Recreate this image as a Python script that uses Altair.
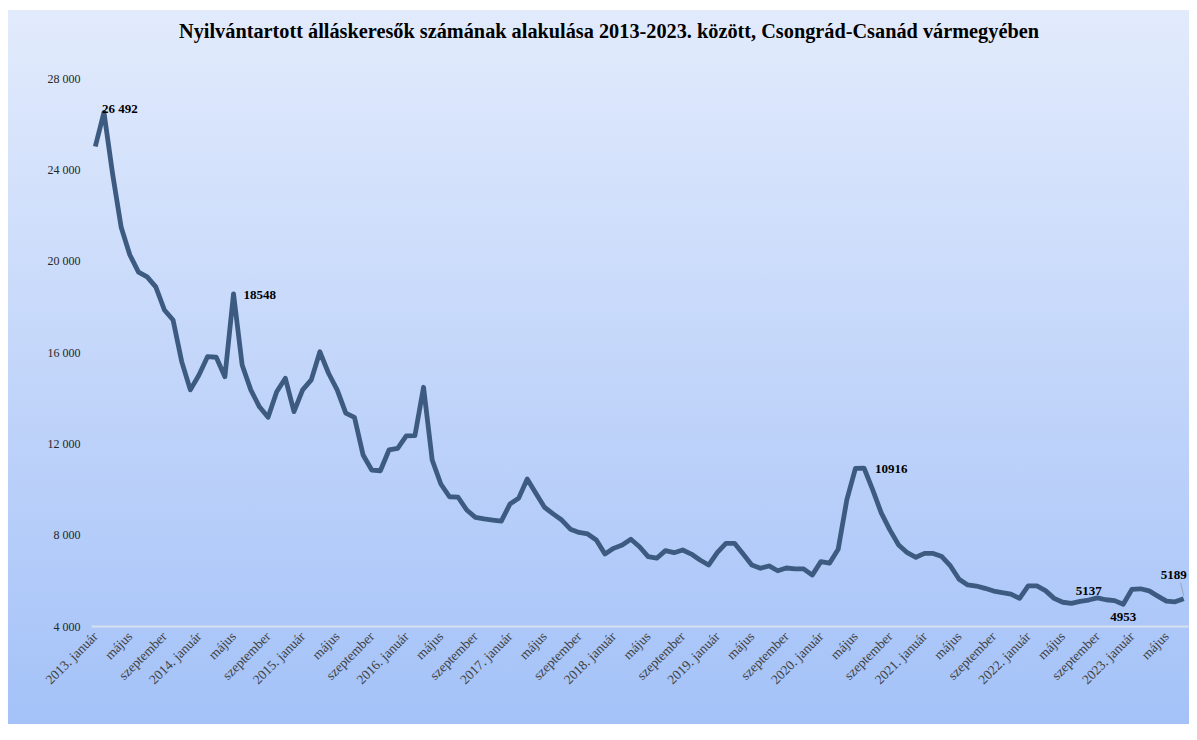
import altair as alt
import pandas as pd

# ---- data ----
months = ["január", "február", "március", "április", "május", "június",
          "július", "augusztus", "szeptember", "október", "november", "december"]
start_year = 2013

values = [
    25000, 26492, 23800, 21450, 20250, 19500, 19290, 18850, 17840, 17400, 15580, 14340,   # 2013
    14990, 15800, 15770, 14920, 18548, 15430, 14340, 13600, 13140, 14260, 14850, 13390,   # 2014
    14340, 14780, 16010, 15070, 14340, 13320, 13140, 11490, 10830, 10800, 11710, 11780,   # 2015
    12330, 12340, 14455, 11270, 10220, 9660, 9640, 9080, 8760, 8690, 8640, 8590,          # 2016
    9340, 9590, 10440, 9810, 9200, 8910, 8640, 8240, 8100, 8030, 7770, 7150,              # 2017
    7400, 7550, 7800, 7470, 7040, 6970, 7300, 7210, 7330, 7150, 6890, 6670,               # 2018
    7210, 7620, 7620, 7150, 6670, 6530, 6630, 6420, 6540, 6500, 6500, 6230,               # 2019
    6820, 6750, 7360, 9520, 10900, 10916, 9960, 8940, 8200, 7550, 7210, 7010,             # 2020
    7180, 7180, 7040, 6630, 6050, 5800, 5750, 5650, 5530, 5460, 5400, 5210,               # 2021
    5760, 5760, 5550, 5210, 5040, 4990, 5080, 5137, 5230, 5150, 5110, 4953,               # 2022
    5600, 5630, 5540, 5310, 5090, 5060, 5189,                                             # 2023
]
n = len(values)
labels = [f"{start_year + i // 12}. {months[i % 12]}" if i % 12 == 0 else months[i % 12]
          for i in range(n)]
tick_idx = list(range(0, n, 4))

ann_idx = [1, 16, 89, 115, 119, 126]
ann_text = ["26 492", "18548", "10916", "5137", "4953", "5189"]

y_ticks = [4000, 8000, 12000, 16000, 20000, 24000, 28000]

title_text = "Nyilvántartott álláskeresők számának alakulása 2013-2023. között, Csongrád-Csanád vármegyében"

# ---- tables ----
df = pd.DataFrame({"i": list(range(n)), "v": values, "label": labels})
ann = pd.DataFrame({"i": ann_idx, "v": [values[k] for k in ann_idx], "t": ann_text})
title_df = pd.DataFrame({"t": [title_text]})

FONT = "Liberation Serif"
W, H = 1097, 548
PAD = {"left": 83, "top": 70, "right": 1, "bottom": 98}

label_js = "[" + ",".join("'" + s + "'" for s in labels) + "][datum.value]"

x_enc = alt.X("i:O", scale=alt.Scale(type="point", padding=0.5),
              axis=alt.Axis(title=None, values=tick_idx, labelExpr=label_js,
                            labelAngle=-45, labelAlign="right", labelBaseline="middle",
                            labelFont=FONT, labelFontSize=13.5, labelColor="#404040",
                            labelPadding=8, ticks=False, domain=True,
                            domainColor="#d8dfee", domainWidth=2, grid=False,
                            zindex=1, labelOverlap=False))
y_enc = alt.Y("v:Q", scale=alt.Scale(domain=[4000, 28000], nice=False, zero=False),
              axis=alt.Axis(title=None, values=y_ticks,
                            labelExpr="replace(format(datum.value, ','), ',', ' ')",
                            labelFont=FONT, labelFontSize=12, labelColor="#262626",
                            labelPadding=11, ticks=False, domain=False, grid=False,
                            zindex=1))

bg = alt.Chart(pd.DataFrame({"a": [0]})).mark_rect(
    fill={"gradient": "linear", "x1": 0, "y1": 0, "x2": 0, "y2": 1,
          "stops": [{"offset": 0, "color": "#e2ebfc"},
                    {"offset": 0.5, "color": "#c3d6fa"},
                    {"offset": 1, "color": "#a4c2f8"}]},
).encode(x=alt.value(-PAD["left"]), x2=alt.value(W + PAD["right"]),
         y=alt.value(-PAD["top"] + 2), y2=alt.value(H + PAD["bottom"]))

title = alt.Chart(title_df).mark_text(
    font=FONT, fontSize=20.3, fontWeight="bold", color="black",
    align="center", baseline="middle"
).encode(x=alt.value(518), y=alt.value(-46), text="t:N")

line = alt.Chart(df).mark_line(color="#3d5b80", strokeWidth=4.8, strokeJoin="round").encode(
    x=x_enc, y=y_enc)

label_styles = {
    "26 492": dict(align="left", dx=-2, dy=-3),
    "18548": dict(align="left", dx=10, dy=1),
    "10916": dict(align="left", dx=11, dy=1),
    "5137": dict(align="center", dx=0, dy=-9),
    "4953": dict(align="center", dx=0, dy=13),
    "5189": dict(align="left", dx=-23, dy=-24),
}
text_layers = []
for t, st in label_styles.items():
    text_layers.append(
        alt.Chart(ann).transform_filter(alt.datum.t == t).mark_text(
            font=FONT, fontSize=13, fontWeight="bold", color="black",
            baseline="middle", **st
        ).encode(x="i:O", y="v:Q", text="t:N")
    )

leader = alt.Chart(ann).transform_filter(alt.datum.t == "5189").mark_rule(
    color="#9aa4b4", strokeWidth=1, xOffset=0, yOffset=-3, x2Offset=-3, y2Offset=-16
).encode(x="i:O", x2="i:O", y="v:Q", y2="v:Q")

chart = alt.layer(bg, title, line, leader, *text_layers).properties(
    width=W, height=H,
    autosize=alt.AutoSizeParams(type="none"),
    padding=PAD,
).configure_view(stroke=None).configure(background="white")

chart.save("out.html", embed_options={"renderer": "svg", "actions": False})
